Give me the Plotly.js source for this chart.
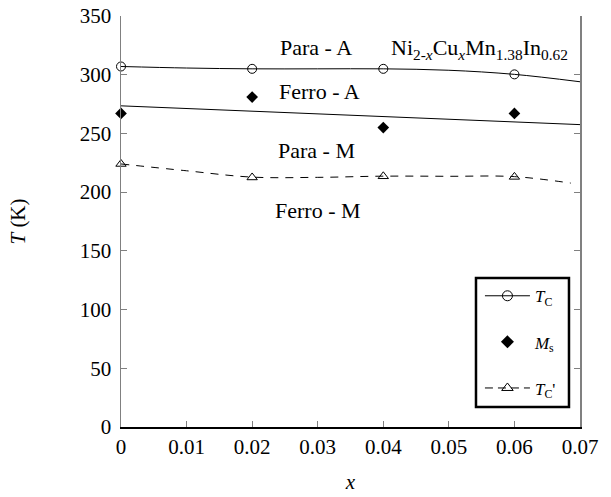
<!DOCTYPE html>
<html>
<head>
<meta charset="utf-8">
<script src="https://cdn.plot.ly/plotly-3.0.1.min.js"></script>
<style>html,body{margin:0;padding:0;background:#fff;}#chart{width:611px;height:497px;}</style>
</head>
<body>
<div id="chart"></div>
<script>
// measured points
const xPts = [0, 0.02, 0.04, 0.06];
const tcPts = [307, 305, 305, 300.3];
const msPts = [267, 281, 255, 267];
const tcpPts = [224, 212.5, 213.5, 213];

// guide curves
const xFit = [0, 0.01, 0.02, 0.03, 0.04, 0.05, 0.06, 0.07];
const tcFit = [307, 305.7, 305, 305, 305, 303.8, 300.3, 294];
const xMsFit = [0, 0.07];
const msFit = [273.5, 257.5];
const xTcpFit = [0, 0.01, 0.02, 0.03, 0.04, 0.05, 0.06, 0.0686];
const tcpFit = [224, 218.2, 212.8, 212.6, 213.6, 213.5, 213.2, 207.7];

const xTicks = [0, 0.01, 0.02, 0.03, 0.04, 0.05, 0.06, 0.07];
const xTickText = ['0', '0.01', '0.02', '0.03', '0.04', '0.05', '0.06', '0.07'];
const yTicks = [0, 50, 100, 150, 200, 250, 300, 350];

const regionLabels = ['Para - A', 'Ferro - A', 'Para - M', 'Ferro - M'];
const regionX = [0.0298, 0.0302, 0.0298, 0.0301];
const regionY = [323.5, 285.5, 235.5, 184.5];

const FONT = 'Liberation Serif';
const ink = '#000';
const gray = '#808080';

const traces = [
  {x: xFit, y: tcFit, mode: 'lines', line: {color: ink, width: 1, shape: 'spline'}, showlegend: false, hoverinfo: 'skip'},
  {x: xMsFit, y: msFit, mode: 'lines', line: {color: ink, width: 1}, showlegend: false, hoverinfo: 'skip'},
  {x: xTcpFit, y: tcpFit, mode: 'lines', line: {color: ink, width: 1, dash: '8px,7px', shape: 'spline'}, showlegend: false, hoverinfo: 'skip'},
  {x: xPts, y: tcPts, mode: 'markers', marker: {symbol: 'circle-open', size: 9, color: ink, line: {width: 1}}, showlegend: false, cliponaxis: false},
  {x: xPts, y: msPts, mode: 'markers', marker: {symbol: 'diamond', size: 9, color: ink}, showlegend: false, cliponaxis: false},
  {x: xPts, y: tcpPts, mode: 'markers', marker: {symbol: 'triangle-up-open', size: 9, color: ink, line: {width: 1}}, showlegend: false, cliponaxis: false},
  // legend entries
  {x: [null], y: [null], mode: 'lines+markers', name: '<i>T</i><sub>C</sub>', legendgroup: 'a', line: {color: ink, width: 1}, marker: {symbol: 'circle-open', size: 10, color: ink, line: {width: 1}}},
  {x: [null], y: [null], mode: 'markers', name: '<i>M</i><sub>s</sub>', legendgroup: 'b', marker: {symbol: 'diamond', size: 10, color: ink}},
  {x: [null], y: [null], mode: 'lines+markers', name: '<i>T</i><sub>C</sub>\'', legendgroup: 'c', line: {color: ink, width: 1, dash: '8px,5px'}, marker: {symbol: 'triangle-up-open', size: 10, color: ink, line: {width: 1}}}
];

const annotations = regionLabels.map((t, i) => ({
  x: regionX[i], y: regionY[i], xref: 'x', yref: 'y', text: t, showarrow: false,
  font: {family: FONT, size: 22, color: ink}, xanchor: 'center', yanchor: 'middle'
}));
annotations.push({
  x: 0.0409, y: 322, xref: 'x', yref: 'y', xanchor: 'left', yanchor: 'middle', showarrow: false,
  text: 'Ni<sub>2-<i>x</i></sub>Cu<sub><i>x</i></sub>Mn<sub>1.38</sub>In<sub>0.62</sub>',
  font: {family: FONT, size: 22, color: ink}
});

const layout = {
  width: 611, height: 497,
  margin: {l: 121, r: 31, t: 16, b: 70},
  paper_bgcolor: '#fff', plot_bgcolor: '#fff',
  font: {family: FONT, color: ink, size: 20},
  showlegend: true,
  legend: {
    x: 0.782, y: 0.362, xanchor: 'left', yanchor: 'top',
    borderwidth: 0, bgcolor: 'rgba(0,0,0,0)',
    font: {family: FONT, size: 17, color: ink},
    traceorder: 'grouped', tracegroupgap: 21, itemwidth: 45
  },
  shapes: [{
    type: 'rect', xref: 'paper', yref: 'paper',
    x0: 0.7734, x1: 0.976, y0: 0.0487, y1: 0.3625,
    line: {color: ink, width: 2.5}, fillcolor: 'rgba(0,0,0,0)', layer: 'above'
  }],
  xaxis: {
    range: [0, 0.07], tickvals: xTicks, ticktext: xTickText,
    ticks: 'inside', ticklen: 6, tickcolor: gray, tickwidth: 1,
    showline: true, linecolor: ink, linewidth: 1.5, mirror: false,
    showgrid: false, zeroline: false,
    tickfont: {family: FONT, size: 21, color: ink},
    title: {text: '<i>x</i>', font: {family: FONT, size: 21, color: ink}, standoff: 16}
  },
  xaxis2: {
    range: [0, 0.07], overlaying: 'x', side: 'top', tickvals: xTicks,
    ticks: 'inside', ticklen: 6, tickcolor: gray, showticklabels: false,
    showline: true, linecolor: gray, linewidth: 1.5, showgrid: false, zeroline: false
  },
  yaxis: {
    range: [0, 350], tickvals: yTicks,
    ticks: 'inside', ticklen: 6, tickcolor: gray, tickwidth: 1,
    showline: true, linecolor: gray, linewidth: 1.5, mirror: 'ticks',
    showgrid: false, zeroline: false, ticklabelstandoff: 4,
    tickfont: {family: FONT, size: 21, color: ink},
    title: {text: '<i>T</i> (K)', font: {family: FONT, size: 21, color: ink}, standoff: 48}
  },
  annotations: annotations
};

Plotly.newPlot('chart', traces, layout, {displayModeBar: false, staticPlot: true});
</script>
</body>
</html>
